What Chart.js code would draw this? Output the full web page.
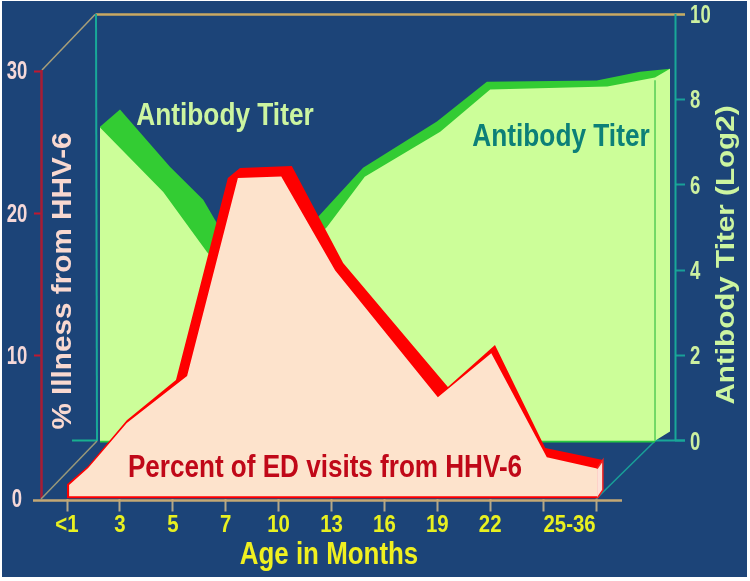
<!DOCTYPE html>
<html lang="en">
<head>
<meta charset="UTF-8">
<title>Percent of ED visits from HHV-6</title>
<script src="https://cdn.jsdelivr.net/npm/chart.js"></script>
<style>
  html, body { margin: 0; padding: 0; background: #fff; }
  canvas { display: block; }
</style>
</head>
<body>
<canvas id="chart" width="750" height="581"></canvas>
<script>
// x values are positions on the month axis (0 = "<1", 10 = end of "25-36")
const monthLabels = ['<1', '3', '5', '7', '10', '13', '16', '19', '22'];
const lastMonthLabel = '25-36';
const illnessTicks = [0, 10, 20, 30];
const titerTicks = [0, 2, 4, 6, 8, 10];

// percent of ED visits: front edge of the ribbon
const illnessX = [0.04, 0.40, 1.13, 2.27, 3.23, 4.05, 5.07, 7.01, 8.02, 9.07, 10.02];
const illnessY = [0.95, 2.14, 5.30, 8.60, 22.5, 22.6, 16.0, 7.10, 10.2, 2.90, 2.10];
// percent of ED visits: back edge of the ribbon
const illnessTopX = [0.00, 0.40, 1.13, 2.06, 3.04, 3.27, 4.25, 5.22, 7.20, 8.09, 9.04, 10.13, 10.02];
const illnessTopY = [1.00, 2.28, 5.50, 8.32, 22.5, 23.2, 23.33, 16.53, 7.82, 10.77, 3.54, 2.70, 0];
// end cap of the red ribbon
const illnessEndX = [10.02, 10.13, 10.13, 10.02];
const illnessEndY = [2.10, 2.70, 0.60, 0];

// antibody titer: front edge
const titerX = [0, 1.14, 1.93, 2.79, 4.09, 4.77, 6.13, 7.03, 9.14, 10];
const titerY = [7.34, 5.83, 4.42, 3.30, 5.01, 6.19, 7.24, 8.23, 8.30, 8.51];
// antibody titer: back edge
const titerTopX = [0, 0.36, 1.26, 1.86, 2.07, 2.79, 3.96, 4.74, 6.07, 6.97, 8.95, 9.73, 10.27, 10];
const titerTopY = [7.36, 7.76, 6.42, 5.65, 5.18, 3.65, 5.29, 6.40, 7.48, 8.41, 8.44, 8.65, 8.72, 0];
// right side face of the titer block
const titerEndX = [10, 10.27, 10.27, 10];
const titerEndY = [8.51, 8.72, 0.22, 0];

const NAVY = '#1c4478';
const FONT = '"Liberation Sans", Arial, sans-serif';

function pts(xs, ys) {
    return xs.map((x, i) => ({ x: x, y: ys[i] }));
}

// closes an outline down to a base value so it can be filled as a shape
function closed(xs, ys, base) {
    return pts(xs, ys).concat([{ x: xs[xs.length - 1], y: base }, { x: xs[0], y: base }]);
}

function line(ctx, x1, y1, x2, y2, color, width) {
    ctx.beginPath();
    ctx.moveTo(x1, y1);
    ctx.lineTo(x2, y2);
    ctx.strokeStyle = color;
    ctx.lineWidth = width;
    ctx.stroke();
}

// the original lettering is narrower or wider than the font, sx fixes that
function label(ctx, text, x, y, color, font, sx, angle) {
    ctx.save();
    ctx.translate(x, y);
    ctx.rotate(angle || 0);
    ctx.scale(sx, 1);
    ctx.font = font;
    ctx.fillStyle = color;
    ctx.textAlign = 'center';
    ctx.textBaseline = 'middle';
    ctx.fillText(text, 0, 0);
    ctx.restore();
}

// background, 3D box edges and all the lettering
const boxPlugin = {
    id: 'box',
    beforeDraw(chart) {
        const ctx = chart.ctx;
        ctx.save();
        ctx.fillStyle = '#fff';
        ctx.fillRect(0, 0, 750, 581);
        ctx.fillStyle = NAVY;
        ctx.fillRect(2, 1, 745, 576);
        ctx.restore();
    },
    beforeDatasetsDraw(chart) {
        const ctx = chart.ctx;
        ctx.save();
        line(ctx, 95.5, 14.5, 685, 14.5, '#c9a862', 2.5);
        line(ctx, 42, 70, 95, 14.5, '#a89f78', 1.5);
        line(ctx, 41.5, 70, 41.5, 498, '#a81c34', 2.5);
        line(ctx, 96, 14, 97, 441, '#18a898', 2);
        line(ctx, 72, 440.5, 97, 440.5, '#18b090', 2);
        line(ctx, 675.5, 14, 675.5, 440, '#18a898', 2);
        line(ctx, 655, 440.5, 685, 440.5, '#18a898', 2);
        line(ctx, 97, 441, 41, 499, '#98987a', 1.5);
        line(ctx, 596, 499, 656, 440, '#18a098', 1.5);
        line(ctx, 33, 500.5, 622, 500.5, '#c4a874', 2.5);
        line(ctx, 100, 441.5, 655, 441.5, '#28c840', 2);
        ctx.restore();
    },
    afterDatasetsDraw(chart) {
        const ctx = chart.ctx;
        const s = chart.scales;
        s.x.ticks.forEach(t => {
            label(ctx, t.label, s.x.getPixelForValue(t.value), 525, '#e8f020', 'bold 24px ' + FONT, 0.85);
        });
        s.y.ticks.forEach(t => {
            label(ctx, t.label, 17, s.y.getPixelForValue(t.value) + 1.5, '#f5d8d8', 'bold 25px ' + FONT, 0.74);
        });
        s.yBack.ticks.forEach(t => {
            const w = String(t.label).length * 5.2;
            label(ctx, t.label, 690 + w, s.yBack.getPixelForValue(t.value) + 2, '#ccf0a0', 'bold 25px ' + FONT, 0.74);
        });
        label(ctx, 'Antibody Titer', 225, 116, '#ccf5a0', 'bold 32px ' + FONT, 0.82);
        label(ctx, 'Antibody Titer', 561, 137, '#0c8078', 'bold 32px ' + FONT, 0.82);
        label(ctx, 'Percent of ED visits from HHV-6', 325, 468, '#c00818', 'bold 32px ' + FONT, 0.815);
        label(ctx, '% Illness from HHV-6', 64, 281, '#f8d8d0', 'bold 27px ' + FONT, 1.10, -Math.PI / 2);
        label(ctx, 'Antibody Titer (Log2)', 727, 255, '#ccf5a0', 'bold 26px ' + FONT, 1.14, -Math.PI / 2);
        label(ctx, 'Age in Months', 329, 555, '#f0f020', 'bold 32px ' + FONT, 0.81);
    }
};

new Chart(document.getElementById('chart'), {
    type: 'line',
    data: {
        datasets: [
            { data: pts(illnessEndX, illnessEndY), xAxisID: 'x', yAxisID: 'y', order: 1,
              fill: 'shape', backgroundColor: '#fde2d8', borderColor: '#f02020', borderWidth: 1.5 },
            { data: closed(illnessX, illnessY, 0.15), xAxisID: 'x', yAxisID: 'y', order: 2,
              fill: 'shape', backgroundColor: '#fde3cc', borderWidth: 0 },
            { data: closed(illnessTopX, illnessTopY, 0), xAxisID: 'x', yAxisID: 'y', order: 3,
              fill: 'shape', backgroundColor: '#fe0000', borderWidth: 0 },
            { data: pts([10, 10], [8.45, 0]), xAxisID: 'xBack', yAxisID: 'yBack', order: 4,
              borderColor: '#55cc55', borderWidth: 1.5 },
            { data: pts(titerEndX, titerEndY), xAxisID: 'xBack', yAxisID: 'yBack', order: 5,
              fill: 'shape', backgroundColor: '#ccfe99', borderWidth: 0 },
            { data: closed(titerX, titerY, 0), xAxisID: 'xBack', yAxisID: 'yBack', order: 6,
              fill: 'shape', backgroundColor: '#ccfe99', borderWidth: 0 },
            { data: closed(titerTopX, titerTopY, 0), xAxisID: 'xBack', yAxisID: 'yBack', order: 7,
              fill: 'shape', backgroundColor: '#33cc33', borderWidth: 0 }
        ]
    },
    options: {
        responsive: false,
        animation: false,
        events: [],
        layout: { padding: { top: 14, left: 0, right: 0, bottom: 0 } },
        elements: { point: { radius: 0 }, line: { tension: 0 } },
        plugins: { legend: { display: false }, tooltip: { enabled: false } },
        scales: {
            x: {
                type: 'linear',
                position: 'bottom',
                min: -0.4726,
                max: 11.493,
                afterFit(s) { s.height = 82.5; },
                afterBuildTicks(s) {
                    const values = monthLabels.map((m, i) => i).concat([9, 9.5, 10]);
                    s.ticks = values.map(v => ({ value: v }));
                },
                border: { display: false },
                grid: {
                    drawOnChartArea: false,
                    tickLength: 13,
                    tickWidth: 2,
                    tickColor: c => (c.tick && c.tick.value === 9.5 ? 'transparent' : '#b4a888')
                },
                ticks: {
                    display: false,
                    callback: v => (v === 9.5 ? lastMonthLabel : (monthLabels[v] || ''))
                }
            },
            xBack: {
                type: 'linear',
                display: false,
                min: -1.045,
                max: 10.36
            },
            y: {
                position: 'left',
                min: 0,
                max: 34,
                afterFit(s) { s.width = 42; },
                afterBuildTicks(s) { s.ticks = illnessTicks.map(v => ({ value: v })); },
                border: { display: false },
                grid: {
                    drawOnChartArea: false,
                    tickLength: 8,
                    tickWidth: 2,
                    tickColor: c => (c.tick && c.tick.value === 0 ? 'transparent' : '#c01830')
                },
                ticks: { display: false }
            },
            yBack: {
                position: 'right',
                min: -1.35,
                max: 10,
                afterFit(s) { s.width = 75; },
                afterBuildTicks(s) { s.ticks = titerTicks.map(v => ({ value: v })); },
                border: { display: false },
                grid: {
                    drawOnChartArea: false,
                    tickLength: 10,
                    tickWidth: 2,
                    tickColor: '#18a098'
                },
                ticks: { display: false }
            }
        }
    },
    plugins: [boxPlugin]
});
</script>
</body>
</html>
